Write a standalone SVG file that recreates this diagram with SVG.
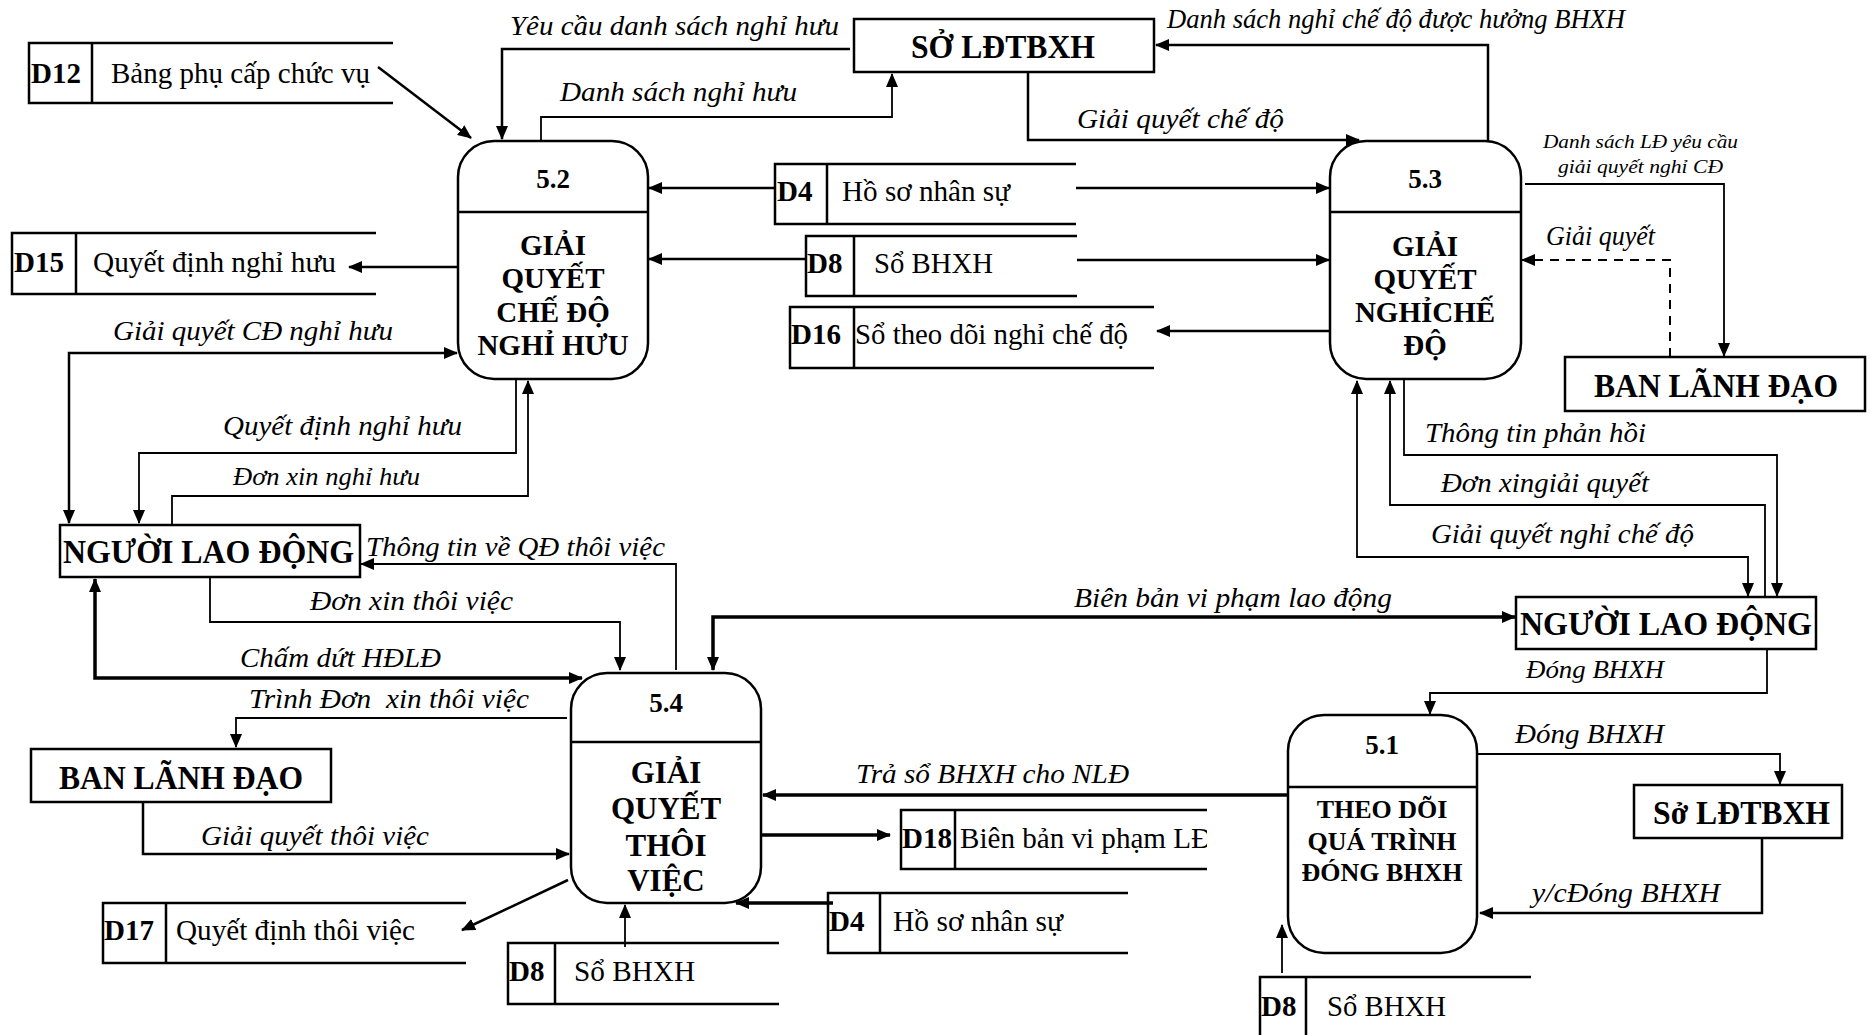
<svg xmlns="http://www.w3.org/2000/svg" width="1871" height="1035" viewBox="0 0 1871 1035">
<defs>
<marker id="a" viewBox="0 0 14 12" markerWidth="14" markerHeight="12" refX="13" refY="6" markerUnits="userSpaceOnUse" orient="auto-start-reverse"><path d="M0,0 L14,6 L0,12 z" fill="#000"/></marker>
<clipPath id="clipD18"><rect x="955" y="800" width="252" height="80"/></clipPath>
</defs>
<style>
.bg{fill:#fff}
.proc{fill:#fff;stroke:#000;stroke-width:2.5}
.ent{fill:#fff;stroke:#000;stroke-width:2.5}
.store{fill:none;stroke:#000;stroke-width:2.5}
.c{fill:none;stroke:#000;stroke-width:2.5;marker-end:url(#a)}
.t{stroke-width:1.8}
.k{stroke-width:3.5}
.both{marker-start:url(#a)}
.dash{stroke-dasharray:9 7;stroke-width:2}
.num{font-family:"Liberation Serif","Times New Roman",serif;font-weight:bold;font-size:27px;text-anchor:middle}
.pt{font-family:"Liberation Serif","Times New Roman",serif;font-weight:bold;font-size:29px;text-anchor:middle}
.et{font-family:"Liberation Serif","Times New Roman",serif;font-weight:bold;font-size:34px}
.sid{font-family:"Liberation Serif","Times New Roman",serif;font-weight:bold;font-size:29px}
.sl{font-family:"Liberation Serif","Times New Roman",serif;font-size:29px}
.lb{font-family:"Liberation Serif","Times New Roman",serif;font-style:italic;font-size:27px}
.sm{font-size:19px}
</style>
<rect class="bg" x="0" y="0" width="1871" height="1035"/>

<g id="connectors">
<path class="c" d="M850,49 H502 V139"/>
<path class="c t" d="M541,141 V117 H892 V74"/>
<path class="c" d="M378,67 L471,138"/>
<path class="c" d="M775,188 H649"/>
<path class="c" d="M806,259 H649"/>
<path class="c" d="M462,267 H349"/>
<path class="c both" d="M69,523 V353 H457"/>
<path class="c t" d="M516,379 V453 H139 V523"/>
<path class="c t" d="M172,525 V496 H528 V381"/>
<path class="c t" d="M676,670 V564 H361"/>
<path class="c t" d="M210,577 V622 H620 V670"/>
<path class="c k both" d="M95,579 V678 H582"/>
<path class="c t" d="M567,718 H236 V747"/>
<path class="c" d="M143,802 V854 H569"/>
<path class="c" d="M568,880 L462,930"/>
<path class="c t" d="M625,947 V905"/>
<path class="c k" d="M833,903 H736"/>
<path class="c k" d="M761,835 H890"/>
<path class="c k" d="M1288,795 H763"/>
<path class="c k both" d="M713,670 V617 H1515"/>
<path class="c t" d="M1404,379 V455 H1777 V596"/>
<path class="c t" d="M1765,597 V505 H1390 V381"/>
<path class="c t both" d="M1357,381 V557 H1748 V596"/>
<path class="c" d="M1028,72 V140 H1359"/>
<path class="c" d="M1488,141 V45 H1156"/>
<path class="c t" d="M1525,184 H1724 V356"/>
<path class="c dash" d="M1670,357 V260 H1522"/>
<path class="c" d="M1076,188 H1329"/>
<path class="c" d="M1077,260 H1329"/>
<path class="c" d="M1330,331 H1157"/>
<path class="c t" d="M1767,649 V693 H1430 V714"/>
<path class="c t" d="M1477,754 H1780 V784"/>
<path class="c" d="M1762,838 V913 H1480"/>
<path class="c t" d="M1282,973 V925"/>

<text class="lb" x="510" y="35" textLength="329" lengthAdjust="spacingAndGlyphs">Yêu cầu danh sách nghỉ hưu</text>
<text class="lb" x="560" y="101" textLength="237" lengthAdjust="spacingAndGlyphs">Danh sách nghỉ hưu</text>
<text class="lb" x="1167" y="28" textLength="458" lengthAdjust="spacingAndGlyphs">Danh sách nghỉ chế độ được hưởng BHXH</text>
<text class="lb" x="1077" y="128" textLength="207" lengthAdjust="spacingAndGlyphs">Giải quyết chế độ</text>
<text class="lb sm" x="1543" y="148" textLength="195" lengthAdjust="spacingAndGlyphs">Danh sách LĐ yêu cầu</text>
<text class="lb sm" x="1558" y="173" textLength="165" lengthAdjust="spacingAndGlyphs">giải quyết nghỉ CĐ</text>
<text class="lb" x="1546" y="245" textLength="109" lengthAdjust="spacingAndGlyphs">Giải quyết</text>
<text class="lb" x="113" y="340" textLength="280" lengthAdjust="spacingAndGlyphs">Giải quyết CĐ nghỉ hưu</text>
<text class="lb" x="223" y="435" textLength="239" lengthAdjust="spacingAndGlyphs">Quyết định nghỉ hưu</text>
<text class="lb" x="233" y="485" textLength="187" lengthAdjust="spacingAndGlyphs" style="font-size:25px">Đơn xin nghỉ hưu</text>
<text class="lb" x="366" y="556" textLength="299" lengthAdjust="spacingAndGlyphs">Thông tin về QĐ thôi việc</text>
<text class="lb" x="310" y="610" textLength="203" lengthAdjust="spacingAndGlyphs">Đơn xin thôi việc</text>
<text class="lb" x="240" y="667" textLength="201" lengthAdjust="spacingAndGlyphs">Chấm dứt HĐLĐ</text>
<text class="lb" x="249" y="708" textLength="280" lengthAdjust="spacingAndGlyphs">Trình Đơn&#160; xin thôi việc</text>
<text class="lb" x="201" y="845" textLength="228" lengthAdjust="spacingAndGlyphs">Giải quyết thôi việc</text>
<text class="lb" x="856" y="783" textLength="273" lengthAdjust="spacingAndGlyphs">Trả sổ BHXH cho NLĐ</text>
<text class="lb" x="1074" y="607" textLength="318" lengthAdjust="spacingAndGlyphs">Biên bản vi phạm lao động</text>
<text class="lb" x="1425" y="442" textLength="221" lengthAdjust="spacingAndGlyphs">Thông tin phản hồi</text>
<text class="lb" x="1441" y="492" textLength="208" lengthAdjust="spacingAndGlyphs">Đơn xingiải quyết</text>
<text class="lb" x="1431" y="543" textLength="263" lengthAdjust="spacingAndGlyphs">Giải quyết nghỉ chế độ</text>
<text class="lb" x="1526" y="678" textLength="138" lengthAdjust="spacingAndGlyphs" style="font-size:25px">Đóng BHXH</text>
<text class="lb" x="1515" y="743" textLength="149" lengthAdjust="spacingAndGlyphs">Đóng BHXH</text>
<text class="lb" x="1532" y="902" textLength="188" lengthAdjust="spacingAndGlyphs">y/cĐóng BHXH</text>
</g>

<g id="p52">
<rect class="proc" x="458" y="141" width="190" height="238" rx="36" ry="36"/>
<line x1="458" y1="212" x2="648" y2="212" stroke="#000" stroke-width="2.5"/>
<text class="num" x="553" y="188">5.2</text>
<text class="pt" x="553" y="255">GIẢI</text>
<text class="pt" x="553" y="288">QUYẾT</text>
<text class="pt" x="553" y="322">CHẾ ĐỘ</text>
<text class="pt" x="553" y="355">NGHỈ HƯU</text>
</g>
<g id="p53">
<rect class="proc" x="1330" y="141" width="191" height="238" rx="36" ry="36"/>
<line x1="1330" y1="212" x2="1521" y2="212" stroke="#000" stroke-width="2.5"/>
<text class="num" x="1425" y="188">5.3</text>
<text class="pt" x="1425" y="256">GIẢI</text>
<text class="pt" x="1425" y="289">QUYẾT</text>
<text class="pt" x="1425" y="322">NGHỈCHẾ</text>
<text class="pt" x="1425" y="355">ĐỘ</text>
</g>
<g id="p54">
<rect class="proc" x="571" y="673" width="190" height="230" rx="36" ry="36"/>
<line x1="571" y1="742" x2="761" y2="742" stroke="#000" stroke-width="2.5"/>
<text class="num" x="666" y="712">5.4</text>
<text class="pt" x="666" y="783" style="font-size:31px">GIẢI</text>
<text class="pt" x="666" y="819" style="font-size:31px">QUYẾT</text>
<text class="pt" x="666" y="856" style="font-size:31px">THÔI</text>
<text class="pt" x="666" y="891" style="font-size:31px">VIỆC</text>
</g>
<g id="p51">
<rect class="proc" x="1288" y="715" width="189" height="238" rx="36" ry="36"/>
<line x1="1288" y1="787" x2="1477" y2="787" stroke="#000" stroke-width="2.5"/>
<text class="num" x="1382" y="754">5.1</text>
<text class="pt" x="1382" y="818" style="font-size:26px">THEO DÕI</text>
<text class="pt" x="1382" y="850" style="font-size:26px">QUÁ TRÌNH</text>
<text class="pt" x="1382" y="881" style="font-size:26px">ĐÓNG BHXH</text>
</g>

<g id="e_so_top">
<rect class="ent" x="854" y="19" width="300" height="53"/>
<text class="et" x="911" y="58" textLength="184" lengthAdjust="spacingAndGlyphs">SỞ LĐTBXH</text>
</g>
<g id="e_bld_right">
<rect class="ent" x="1565" y="357" width="300" height="54"/>
<text class="et" x="1594" y="397" textLength="244" lengthAdjust="spacingAndGlyphs">BAN LÃNH ĐẠO</text>
</g>
<g id="e_nld_left">
<rect class="ent" x="60" y="525" width="300" height="52"/>
<text class="et" x="63" y="563" textLength="291" lengthAdjust="spacingAndGlyphs">NGƯỜI LAO ĐỘNG</text>
</g>
<g id="e_nld_right">
<rect class="ent" x="1516" y="597" width="300" height="52"/>
<text class="et" x="1520" y="635" textLength="292" lengthAdjust="spacingAndGlyphs">NGƯỜI LAO ĐỘNG</text>
</g>
<g id="e_bld_left">
<rect class="ent" x="31" y="749" width="300" height="53"/>
<text class="et" x="59" y="789" textLength="244" lengthAdjust="spacingAndGlyphs">BAN LÃNH ĐẠO</text>
</g>
<g id="e_so_right">
<rect class="ent" x="1634" y="785" width="208" height="53"/>
<text class="et" x="1653" y="824" textLength="177" lengthAdjust="spacingAndGlyphs">Sở LĐTBXH</text>
</g>

<g id="d12">
<path class="store" d="M393,43 H29 V103 H393 M92,43 V103"/>
<text class="sid" x="31" y="83">D12</text>
<text class="sl" x="111" y="83" textLength="259" lengthAdjust="spacingAndGlyphs">Bảng phụ cấp chức vụ</text>
</g>
<g id="d15">
<path class="store" d="M376,233 H12 V294 H376 M76,233 V294"/>
<text class="sid" x="14" y="272">D15</text>
<text class="sl" x="93" y="272" textLength="243" lengthAdjust="spacingAndGlyphs">Quyết định nghỉ hưu</text>
</g>
<g id="d4_top">
<path class="store" d="M1076,164 H775 V224 H1076 M827,164 V224"/>
<text class="sid" x="777" y="201">D4</text>
<text class="sl" x="842" y="201" textLength="168" lengthAdjust="spacingAndGlyphs">Hồ sơ nhân sự</text>
</g>
<g id="d8_top">
<path class="store" d="M1077,236 H806 V296 H1077 M854,236 V296"/>
<text class="sid" x="807" y="273">D8</text>
<text class="sl" x="874" y="273" textLength="119" lengthAdjust="spacingAndGlyphs">Sổ BHXH</text>
</g>
<g id="d16">
<path class="store" d="M1154,307 H790 V368 H1154 M854,307 V368"/>
<text class="sid" x="791" y="344">D16</text>
<text class="sl" x="855" y="344" textLength="273" lengthAdjust="spacingAndGlyphs">Sổ theo dõi nghỉ chế độ</text>
</g>
<g id="d17">
<path class="store" d="M466,903 H103 V963 H466 M166,903 V963"/>
<text class="sid" x="104" y="940">D17</text>
<text class="sl" x="176" y="940" textLength="239" lengthAdjust="spacingAndGlyphs">Quyết định thôi việc</text>
</g>
<g id="d8_mid">
<path class="store" d="M779,943 H508 V1004 H779 M555,943 V1004"/>
<text class="sid" x="509" y="981">D8</text>
<text class="sl" x="574" y="981" textLength="121" lengthAdjust="spacingAndGlyphs">Sổ BHXH</text>
</g>
<g id="d4_bottom">
<path class="store" d="M1128,893 H828 V953 H1128 M880,893 V953"/>
<text class="sid" x="829" y="931">D4</text>
<text class="sl" x="893" y="931" textLength="170" lengthAdjust="spacingAndGlyphs">Hồ sơ nhân sự</text>
</g>
<g id="d18">
<path class="store" d="M1207,810 H901 V869 H1207 M955,810 V869"/>
<text class="sid" x="902" y="848">D18</text>
<text class="sl" x="960" y="848" textLength="252" lengthAdjust="spacingAndGlyphs" clip-path="url(#clipD18)">Biên bản vi phạm LĐ</text>
</g>
<g id="d8_right">
<path class="store" d="M1531,977 H1260 V1040 M1306,977 V1040"/>
<text class="sid" x="1261" y="1016">D8</text>
<text class="sl" x="1327" y="1016" textLength="119" lengthAdjust="spacingAndGlyphs">Sổ BHXH</text>
</g>
</svg>
